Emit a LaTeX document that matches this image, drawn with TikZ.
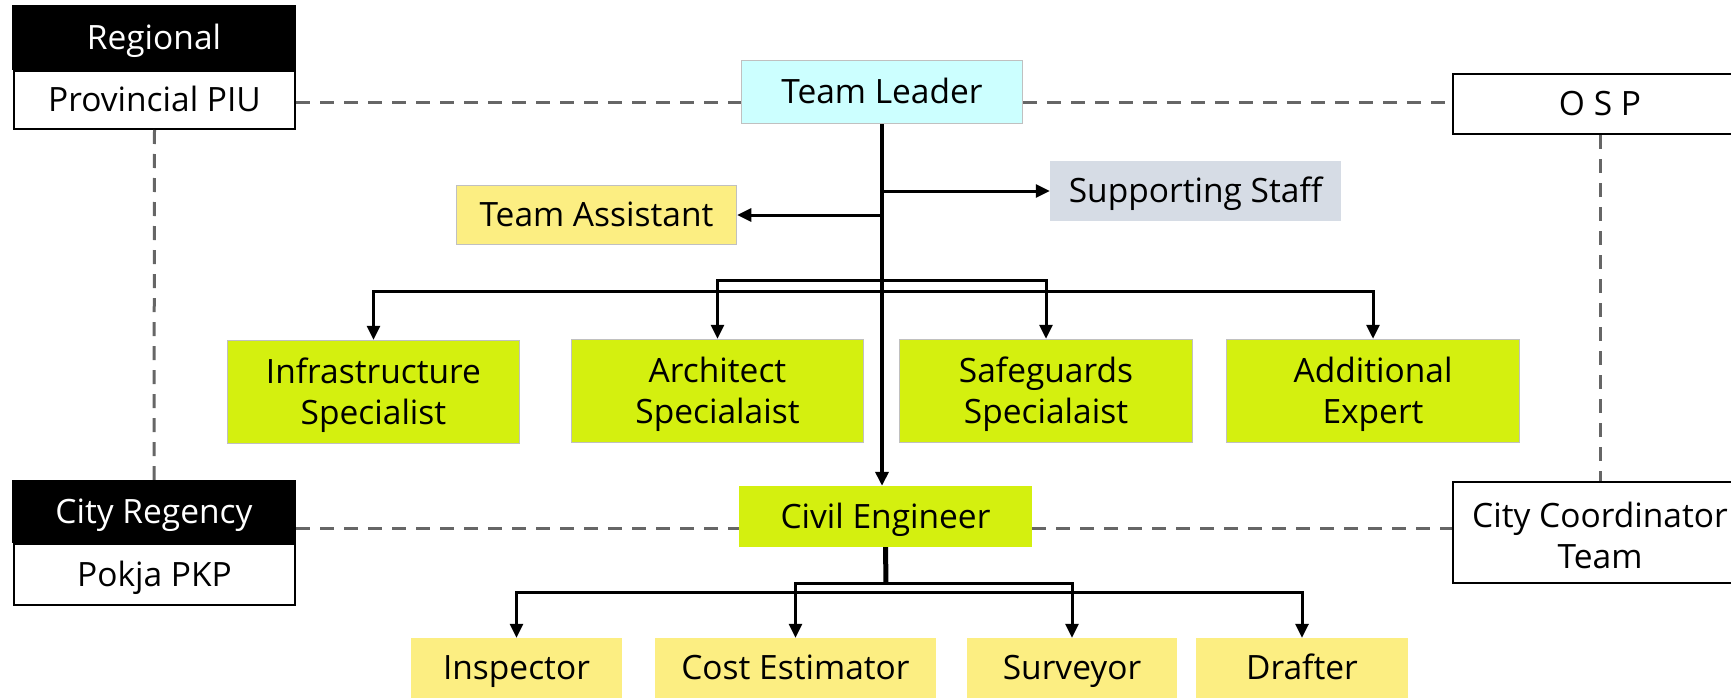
\documentclass[tikz,border=0pt]{standalone}
\usepackage{fontspec}
\setmainfont{Open Sans}
\usetikzlibrary{arrows.meta,calc}
\definecolor{leaderfill}{HTML}{CCFFFF}
\definecolor{expertfill}{HTML}{D4F00F}
\definecolor{assistfill}{HTML}{FCEE82}
\definecolor{stafffill}{HTML}{D6DCE5}
\definecolor{thinborder}{HTML}{C0C0C0}
\definecolor{linkgray}{HTML}{666666}
% strut that lowers two-line labels so they sit centred like the one-line ones
\newcommand{\toplinestrut}{\rule{0pt}{32pt}}
\begin{document}
\begin{tikzpicture}[x=1pt,y=1pt,
  box/.style={rectangle, inner sep=0pt, align=center, text=black,
    font=\fontsize{33.5}{41}\selectfont},
  oneline/.style={text height=23.6pt, text depth=0pt},
  levelbox/.style={box, oneline, fill=black, text=white},
  unitbox/.style={box, fill=white, draw=black, line width=2pt},
  leaderbox/.style={box, oneline, fill=leaderfill, draw=thinborder, line width=1.5pt},
  expertbox/.style={box, fill=expertfill, draw=thinborder, line width=1.5pt},
  engbox/.style={box, oneline, fill=expertfill},
  assistbox/.style={box, oneline, fill=assistfill, draw=thinborder, line width=1.5pt},
  crewbox/.style={box, oneline, fill=assistfill},
  staffbox/.style={box, oneline, fill=stafffill},
  link/.style={draw=black, line width=3pt, -{Triangle[length=14pt,width=13pt]}},
  trunk/.style={draw=black, line width=4pt},
  coord/.style={draw=linkgray, line width=3pt, dash pattern=on 14pt off 10pt}
]
\useasboundingbox (0,0) rectangle (1731,-698);

% left column: regional and city levels
\node[levelbox, minimum width=284pt, minimum height=65pt] (regional) at (154,-37.5) {Regional};
\node[unitbox, oneline, minimum width=281pt, minimum height=58pt] (piu) at (154.5,-100) {Provincial PIU};
\node[levelbox, minimum width=284pt, minimum height=63pt] (regency) at (154,-511.5) {City Regency};
\node[unitbox, oneline, minimum width=281pt, minimum height=61pt] (pkp) at (154.5,-574.5) {Pokja PKP};

% right column: OSP and city coordinators
\node[unitbox, oneline, minimum width=294pt, minimum height=60pt] (osp) at (1600,-104) {O S P};
\node[unitbox, minimum width=294pt, minimum height=101pt] (cct) at (1600,-532.5) {\toplinestrut City Coordinator\\Team};

% consultant team
\node[leaderbox, minimum width=281pt, minimum height=63pt] (tl) at (882,-92) {Team Leader};
\node[assistbox, minimum width=280pt, minimum height=59pt] (ta) at (596.5,-215) {Team Assistant};
\node[staffbox, minimum width=291pt, minimum height=60pt] (ss) at (1195.5,-191) {Supporting Staff};

\node[expertbox, minimum width=292pt, minimum height=103pt] (infra) at (373.5,-392) {\toplinestrut Infrastructure\\Specialist};
\node[expertbox, minimum width=292pt, minimum height=103pt] (arch) at (717.5,-391) {\toplinestrut Architect\\Specialaist};
\node[expertbox, minimum width=293pt, minimum height=103pt] (safe) at (1046,-391) {\toplinestrut Safeguards\\Specialaist};
\node[expertbox, minimum width=293pt, minimum height=103pt] (addx) at (1373,-391) {\toplinestrut Additional\\Expert};

\node[engbox, minimum width=293pt, minimum height=61pt] (ce) at (885.5,-516.5) {Civil Engineer};

\node[crewbox, minimum width=211pt, minimum height=60pt] (insp) at (516.5,-668) {Inspector};
\node[crewbox, minimum width=281pt, minimum height=60pt] (cost) at (795.5,-668) {Cost Estimator};
\node[crewbox, minimum width=210pt, minimum height=60pt] (surv) at (1072,-668) {Surveyor};
\node[crewbox, minimum width=212pt, minimum height=60pt] (draft) at (1302,-668) {Drafter};

% coordination lines
\draw[coord] ([yshift=-3pt]piu.east) -- ([yshift=-3pt]piu.east -| tl.west);
\draw[coord] ([yshift=-11pt]tl.east) -- ([yshift=-11pt]tl.east -| osp.west);
\draw[coord] (piu.south) -- (regency.north);
\draw[coord] (osp.south) -- (cct.north);
\draw[coord] ([yshift=-16.5pt]regency.east) -- ([yshift=-16.5pt]regency.east -| ce.west);
\draw[coord] ([yshift=-11.5pt]ce.east) -- ([yshift=-11.5pt]ce.east -| cct.west);

% command lines from the team leader
\coordinate (tlup) at (882,-280);
\coordinate (tllow) at (882,-291);
\draw[trunk] (tl.south) -- (tl.south |- ss.west);
\draw[link, line width=4pt] (tl.south |- ss.west) -- (tl.south |- ce.north);
\draw[link] (tl.south |- ss.west) -- (ss.west);
\draw[link] (tl.south |- ta.east) -- (ta.east);
\draw[link] (tlup) -| (arch.north);
\draw[link] (tlup) -| (safe.north);
\draw[link] (tllow) -| (infra.north);
\draw[link] (tllow) -| (addx.north);

% command lines from the civil engineer
\coordinate (ceup) at (886,-583);
\coordinate (celow) at (886,-592);
\draw[trunk, line width=5pt] (ce.south) -- (ceup);
\draw[link] (ceup) -| (cost.north);
\draw[link] (ceup) -| (surv.north);
\draw[link] (celow) -| (insp.north);
\draw[link] (celow) -| (draft.north);
\end{tikzpicture}
\end{document}
